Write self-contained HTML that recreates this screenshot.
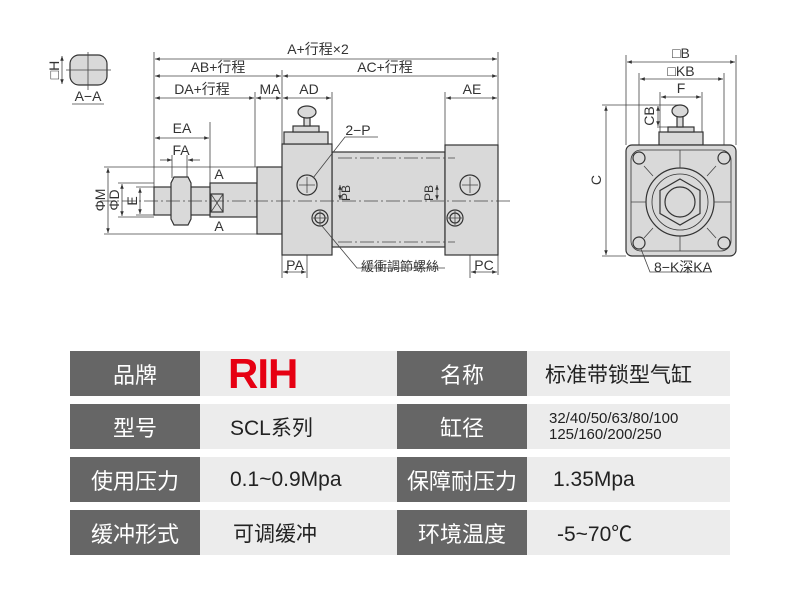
<!DOCTYPE html>
<html><head><meta charset="utf-8"><style>
html,body{margin:0;padding:0;background:#fff;width:800px;height:605px;overflow:hidden}
svg{position:absolute;left:0;top:0}
.t{position:absolute;display:flex;align-items:center;font-family:"Liberation Sans","Noto Sans CJK SC",sans-serif}
.d{background:#666;color:#fff;font-size:22px;justify-content:center}
.l{background:#ececec;color:#222;font-size:21px}
</style></head><body>
<svg width="800" height="340" viewBox="0 0 800 340" font-family="Liberation Sans, Noto Sans CJK SC, sans-serif" font-size="12" fill="#333">
<defs><marker id="a" markerWidth="6" markerHeight="6" refX="6" refY="3" orient="auto-start-reverse"><path d="M0,0.8 L6,3 L0,5.2z" fill="#333"/></marker></defs>
<g stroke="#444" stroke-width="0.8" fill="none">
<line x1="154" y1="52" x2="154" y2="187"/><line x1="498" y1="52" x2="498" y2="275"/>
<line x1="282" y1="70" x2="282" y2="144"/><line x1="255" y1="92" x2="255" y2="167"/>
<line x1="332" y1="92" x2="332" y2="144"/><line x1="445" y1="92" x2="445" y2="145"/>
<line x1="210" y1="122" x2="210" y2="187"/>
<line x1="155" y1="59" x2="497" y2="59" marker-start="url(#a)" marker-end="url(#a)"/>
<line x1="155" y1="76" x2="281" y2="76" marker-start="url(#a)" marker-end="url(#a)"/>
<line x1="283" y1="76" x2="497" y2="76" marker-start="url(#a)" marker-end="url(#a)"/>
<line x1="155" y1="98" x2="254" y2="98" marker-start="url(#a)" marker-end="url(#a)"/>
<line x1="256" y1="98" x2="281" y2="98" marker-start="url(#a)" marker-end="url(#a)"/>
<line x1="283" y1="98" x2="331" y2="98" marker-start="url(#a)" marker-end="url(#a)"/>
<line x1="446" y1="98" x2="497" y2="98" marker-start="url(#a)" marker-end="url(#a)"/>
<line x1="155" y1="138" x2="209" y2="138" marker-start="url(#a)" marker-end="url(#a)"/>
<line x1="160" y1="160" x2="172" y2="160" marker-end="url(#a)"/><line x1="200" y1="160" x2="188" y2="160" marker-end="url(#a)"/>
<line x1="172" y1="155" x2="172" y2="178"/><line x1="187" y1="155" x2="187" y2="178"/>
<line x1="104" y1="167" x2="257" y2="167"/><line x1="104" y1="234" x2="257" y2="234"/>
<line x1="108" y1="168" x2="108" y2="233" marker-start="url(#a)" marker-end="url(#a)"/>
<line x1="118" y1="183" x2="154" y2="183"/><line x1="118" y1="217" x2="154" y2="217"/>
<line x1="122" y1="184" x2="122" y2="216" marker-start="url(#a)" marker-end="url(#a)"/>
<line x1="136" y1="187" x2="154" y2="187"/><line x1="136" y1="215" x2="154" y2="215"/>
<line x1="140" y1="188" x2="140" y2="214" marker-start="url(#a)" marker-end="url(#a)"/>
<line x1="282" y1="255" x2="282" y2="278"/><line x1="307" y1="195" x2="307" y2="278"/>
<line x1="470" y1="195" x2="470" y2="278"/>
<line x1="283" y1="272" x2="306" y2="272" marker-start="url(#a)" marker-end="url(#a)"/>
<line x1="471" y1="272" x2="497" y2="272" marker-start="url(#a)" marker-end="url(#a)"/>
</g>
<g stroke="#333" stroke-width="1.2" fill="#d9d9d9">
<rect x="332" y="152" width="113" height="95"/>
<rect x="210" y="183" width="47" height="34"/>
<rect x="257" y="167" width="25" height="67"/>
<rect x="282" y="144" width="50" height="111"/>
<rect x="445" y="145" width="53" height="110"/>
<rect x="154" y="187" width="56" height="28"/>
<path d="M174,177 H188 L191,183 V219 L188,225 H174 L171,219 V183z"/>
<rect x="211" y="194" width="12" height="18"/>
<rect x="284" y="132" width="44" height="12"/>
<rect x="293" y="126" width="26" height="6"/>
<rect x="304" y="112" width="6" height="14"/>
<ellipse cx="307" cy="112" rx="9" ry="6"/>
<circle cx="307" cy="185" r="10"/><circle cx="470" cy="185" r="10"/>
<circle cx="320" cy="218" r="8"/><circle cx="320" cy="218" r="5"/>
<circle cx="455" cy="218" r="8"/><circle cx="455" cy="218" r="5"/>
<rect x="70" y="55" width="37" height="30" rx="9"/>
</g>
<g stroke="#444" stroke-width="0.8" fill="none">
<path d="M211,194 L223,212 M223,194 L211,212"/>
<path d="M66,70 H111 M88,52 V90"/>
<line x1="62" y1="56" x2="62" y2="84" marker-start="url(#a)" marker-end="url(#a)"/>
<line x1="100" y1="201" x2="510" y2="201" stroke-dasharray="14,3,2,3"/>
<line x1="338" y1="158" x2="455" y2="158" stroke-dasharray="14,3,2,3"/>
<line x1="338" y1="242" x2="455" y2="242" stroke-dasharray="14,3,2,3"/>
<path d="M299,185 H315 M307,177 V193 M462,185 H478 M470,177 V193"/>
<path d="M313,218 H327 M320,211 V225 M448,218 H462 M455,211 V225"/>
<path d="M313,178 L345,137 H378"/><path d="M322,226 L357,268 H445"/>
<line x1="340" y1="185" x2="340" y2="200" marker-start="url(#a)" marker-end="url(#a)"/>
<line x1="437" y1="185" x2="437" y2="200" marker-start="url(#a)" marker-end="url(#a)"/>
<line x1="72" y1="104" x2="104" y2="104"/>
</g>
<g text-anchor="middle" font-size="14">
<text x="318" y="54">A+行程×2</text><text x="218" y="72">AB+行程</text><text x="385" y="72">AC+行程</text>
<text x="202" y="94">DA+行程</text><text x="270" y="94">MA</text><text x="309" y="94">AD</text><text x="472" y="94">AE</text>
<text x="182" y="133">EA</text><text x="181" y="155">FA</text><text x="358" y="135">2−P</text>
<text x="219" y="179">A</text><text x="219" y="231">A</text>
<text x="88" y="101">A−A</text>
<text x="295" y="270">PA</text><text x="484" y="270">PC</text>
<text x="400" y="271" font-size="13">緩衝調節螺絲</text>
<text transform="translate(105,200) rotate(-90)">ΦM</text>
<text transform="translate(119,200) rotate(-90)">ΦD</text>
<text transform="translate(137,201) rotate(-90)">E</text>
<text transform="translate(59,70) rotate(-90)">□H</text>
<text transform="translate(350,193) rotate(-90)" font-size="12">PB</text>
<text transform="translate(433,193) rotate(-90)" font-size="12">PB</text>
</g>
<g stroke="#444" stroke-width="0.8" fill="none">
<line x1="626" y1="55" x2="626" y2="145"/><line x1="736" y1="55" x2="736" y2="145"/>
<line x1="639" y1="73" x2="639" y2="158"/><line x1="724" y1="73" x2="724" y2="158"/>
<line x1="660" y1="92" x2="660" y2="202"/><line x1="702" y1="92" x2="702" y2="202"/>
<line x1="627" y1="62" x2="735" y2="62" marker-start="url(#a)" marker-end="url(#a)"/>
<line x1="640" y1="79" x2="723" y2="79" marker-start="url(#a)" marker-end="url(#a)"/>
<line x1="661" y1="97" x2="701" y2="97" marker-start="url(#a)" marker-end="url(#a)"/>
<line x1="602" y1="105" x2="680" y2="105"/><line x1="602" y1="256" x2="626" y2="256"/>
<line x1="606" y1="106" x2="606" y2="255" marker-start="url(#a)" marker-end="url(#a)"/>
<line x1="657" y1="127" x2="680" y2="127"/>
<line x1="658" y1="106" x2="658" y2="126" marker-start="url(#a)" marker-end="url(#a)"/>
</g>
<g stroke="#333" stroke-width="1.2" fill="#d9d9d9">
<rect x="659" y="132" width="44" height="13"/>
<rect x="668" y="127" width="26" height="5"/>
<rect x="677" y="112" width="6" height="15"/>
<ellipse cx="680" cy="111" rx="8" ry="6"/>
<rect x="626" y="145" width="110" height="111" rx="6"/>
<rect x="631" y="150" width="100" height="101" rx="10" fill="none" stroke-width="0.8"/>
<circle cx="680" cy="202" r="34"/>
<circle cx="680" cy="202" r="28" fill="none" stroke-width="0.8"/>
<path d="M680,179 L700,190.5 V213.5 L680,225 L660,213.5 V190.5z"/>
<circle cx="680" cy="202" r="15"/>
<circle cx="639" cy="158" r="6"/><circle cx="724" cy="158" r="6"/>
<circle cx="639" cy="243" r="6"/><circle cx="724" cy="243" r="6"/>
</g>
<g stroke="#444" stroke-width="0.8" fill="none">
<path d="M653,176 L644,166 M707,176 L716,166 M653,228 L644,238 M707,228 L716,238"/>
<path d="M631,202 H646 M714,202 H731 M680,150 V168 M680,236 V251"/>
<path d="M641,249 L650,272 H712"/>
</g>
<g text-anchor="middle" font-size="14">
<text x="681" y="58">□B</text><text x="681" y="76">□KB</text><text x="681" y="93">F</text>
<text x="683" y="272">8−K深KA</text>
<text transform="translate(601,180) rotate(-90)">C</text>
<text transform="translate(654,116) rotate(-90)">CB</text>
</g>
</svg>
<div class="t d" style="left:70px;top:351px;width:130px;height:45px">品牌</div>
<div class="t l" style="left:200px;top:351px;width:197px;height:45px;padding-left:28px;box-sizing:border-box;color:#e60012;font-size:42px;font-weight:bold;letter-spacing:-1px">RIH</div>
<div class="t d" style="left:397px;top:351px;width:130px;height:45px">名称</div>
<div class="t l" style="left:527px;top:351px;width:203px;height:45px;padding-left:18px;box-sizing:border-box">标准带锁型气缸</div>
<div class="t d" style="left:70px;top:404px;width:130px;height:45px">型号</div>
<div class="t l" style="left:200px;top:404px;width:197px;height:45px;padding-left:30px;box-sizing:border-box">SCL系列</div>
<div class="t d" style="left:397px;top:404px;width:130px;height:45px">缸径</div>
<div class="t l" style="left:527px;top:404px;width:203px;height:45px;padding-left:22px;box-sizing:border-box;font-size:15px;line-height:16px">32/40/50/63/80/100<br>125/160/200/250</div>
<div class="t d" style="left:70px;top:457px;width:130px;height:45px">使用压力</div>
<div class="t l" style="left:200px;top:457px;width:197px;height:45px;padding-left:30px;box-sizing:border-box">0.1~0.9Mpa</div>
<div class="t d" style="left:397px;top:457px;width:130px;height:45px">保障耐压力</div>
<div class="t l" style="left:527px;top:457px;width:203px;height:45px;padding-left:26px;box-sizing:border-box">1.35Mpa</div>
<div class="t d" style="left:70px;top:510px;width:130px;height:45px">缓冲形式</div>
<div class="t l" style="left:200px;top:510px;width:197px;height:45px;padding-left:33px;box-sizing:border-box">可调缓冲</div>
<div class="t d" style="left:397px;top:510px;width:130px;height:45px">环境温度</div>
<div class="t l" style="left:527px;top:510px;width:203px;height:45px;padding-left:30px;box-sizing:border-box">-5~70℃</div>
</body></html>
